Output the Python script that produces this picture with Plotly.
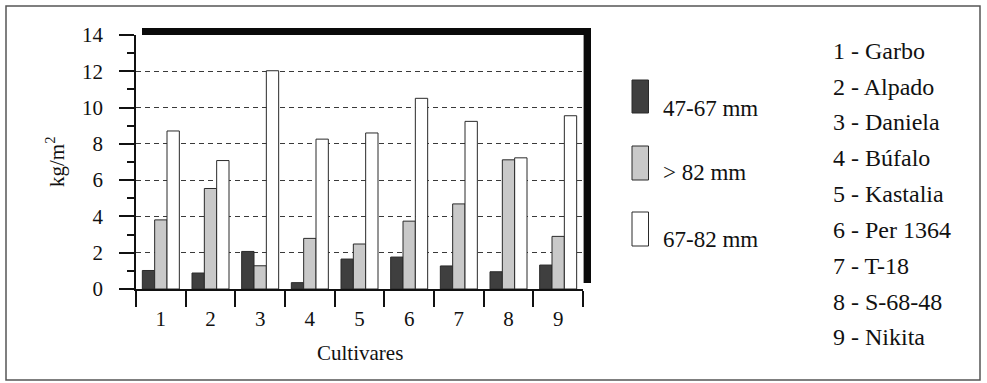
import plotly.graph_objects as go

# ---- data ----
cultivar_ids = ["1", "2", "3", "4", "5", "6", "7", "8", "9"]
cultivar_names = ["Garbo", "Alpado", "Daniela", "Búfalo", "Kastalia",
                  "Per 1364", "T-18", "S-68-48", "Nikita"]
series_names = ["47-67 mm", "> 82 mm", "67-82 mm"]
v_47_67 = [1.02, 0.88, 2.07, 0.35, 1.65, 1.76, 1.27, 0.95, 1.32]
v_gt82 = [3.81, 5.54, 1.28, 2.79, 2.48, 3.74, 4.69, 7.12, 2.90]
v_67_82 = [8.71, 7.08, 12.03, 8.26, 8.60, 10.51, 9.24, 7.23, 9.55]
y_ticks = [0, 2, 4, 6, 8, 10, 12, 14]
y_title = "kg/m<sup>2</sup>"
x_title = "Cultivares"

# ---- styling ----
W, H = 987, 383
ML, MR, MT, MB = 136, 404, 35, 94
PW, PH = W - ML - MR, H - MT - MB
FONT = "'Liberation Serif', 'Times New Roman', Times, serif"
TXT = "#111111"
colors = ["#3f3f3f", "#c9c9c9", "#ffffff"]
series_vals = [v_47_67, v_gt82, v_67_82]


def px(x):
    return (x - ML) / PW


def py(y):
    return (H - MB - y) / PH


fig = go.Figure()
for name, vals, col in zip(series_names, series_vals, colors):
    fig.add_trace(go.Bar(
        x=cultivar_ids, y=vals, name=name,
        marker=dict(color=col, line=dict(color="#2a2a2a", width=1)),
        showlegend=False,
    ))

shapes = [
    # outer frame
    dict(type="rect", xref="paper", yref="paper",
         x0=px(6), x1=px(980), y0=py(380), y1=py(6),
         line=dict(color="#555555", width=1.5), fillcolor="rgba(0,0,0,0)"),
    # plot shadow: top bar and right bar
    dict(type="rect", xref="paper", yref="paper",
         x0=px(142), x1=px(591), y0=py(35), y1=py(28),
         line=dict(width=0), fillcolor="#0a0a0a"),
    dict(type="rect", xref="paper", yref="paper",
         x0=px(583.6), x1=px(591), y0=py(283), y1=py(28),
         line=dict(width=0), fillcolor="#0a0a0a"),
]

annotations = []
# custom legend
leg_sym_y = [(80, 113), (146, 180), (212, 246)]
leg_txt_y = [108, 173, 239]
for name, col, (ya, yb), ty in zip(series_names, colors, leg_sym_y, leg_txt_y):
    shapes.append(dict(type="rect", xref="paper", yref="paper",
                       x0=px(632), x1=px(648.5), y0=py(yb), y1=py(ya),
                       line=dict(color="#2a2a2a", width=1), fillcolor=col))
    annotations.append(dict(xref="paper", yref="paper", x=px(661), y=py(ty),
                            text=name, showarrow=False, xanchor="left",
                            yanchor="middle",
                            font=dict(family=FONT, size=23, color=TXT)))

# cultivar key
key_y0, key_dy = 50.7, 35.83
for i, (cid, cname) in enumerate(zip(cultivar_ids, cultivar_names)):
    annotations.append(dict(xref="paper", yref="paper", x=px(831),
                            y=py(key_y0 + i * key_dy),
                            text=f"{cid} - {cname}", showarrow=False,
                            xanchor="left", yanchor="middle",
                            font=dict(family=FONT, size=24, color=TXT)))

# axis titles
annotations.append(dict(xref="paper", yref="paper", x=0.5, y=py(353),
                        text=x_title, showarrow=False, xanchor="center",
                        yanchor="middle",
                        font=dict(family=FONT, size=21, color=TXT)))
annotations.append(dict(xref="paper", yref="paper", x=px(55), y=0.5,
                        text=y_title, showarrow=False, xanchor="center",
                        yanchor="middle", textangle=-90,
                        font=dict(family=FONT, size=21, color=TXT)))

fig.update_layout(
    width=W, height=H,
    margin=dict(l=ML, r=MR, t=MT, b=MB, pad=0),
    paper_bgcolor="white", plot_bgcolor="white",
    barmode="group", bargap=0.255, bargroupgap=0,
    font=dict(family=FONT, size=21, color=TXT),
    shapes=shapes, annotations=annotations,
    showlegend=False,
)
fig.update_xaxes(
    type="category", range=[-0.5, 8.5], tickson="boundaries",
    ticks="outside", ticklen=16, tickwidth=1.5, tickcolor=TXT,
    showline=True, linecolor=TXT, linewidth=1.5, showgrid=False,
    ticklabelstandoff=10,
    tickfont=dict(family=FONT, size=21, color=TXT),
)
fig.update_yaxes(
    range=[0, 14], tickvals=y_ticks, ticks="outside", ticklen=15,
    tickwidth=1.5, tickcolor=TXT, showline=True, linecolor=TXT, linewidth=1.5,
    zeroline=False, showgrid=True, gridcolor="#3a3a3a", gridwidth=1,
    griddash="5px,4px", ticklabelstandoff=12,
    minor=dict(dtick=1, ticks="outside", ticklen=7, tickwidth=1.5,
               tickcolor=TXT, showgrid=False),
    tickfont=dict(family=FONT, size=21, color=TXT),
)

fig.write_html("out.html", config={"displayModeBar": False},
               post_script="document.body.style.margin='0';"
                           "document.body.style.padding='0';")
